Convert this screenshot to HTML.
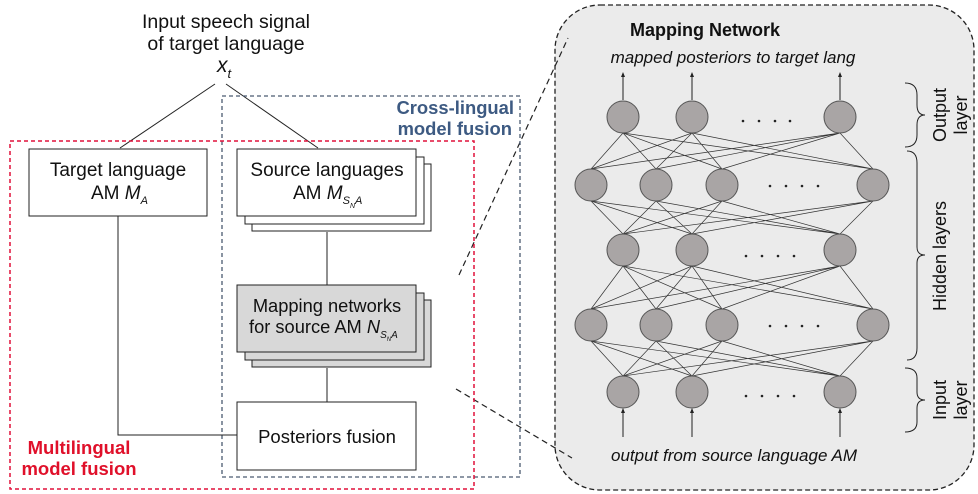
<!DOCTYPE html>
<html><head><meta charset="utf-8"><style>
body{margin:0;background:#fff;}
svg{display:block;font-family:"Liberation Sans",sans-serif;}
</style></head><body>
<svg width="978" height="494" viewBox="0 0 978 494" xmlns="http://www.w3.org/2000/svg">
<rect x="555" y="5" width="419" height="485" rx="45" fill="#ebebeb" stroke="#222" stroke-width="1.3" stroke-dasharray="5,3"/>
<line x1="459" y1="275" x2="568" y2="38" stroke="#222" stroke-width="1.2" stroke-dasharray="6,4"/>
<line x1="456" y1="389" x2="572" y2="458" stroke="#222" stroke-width="1.2" stroke-dasharray="6,4"/>

<text x="226" y="28" font-size="19.5" text-anchor="middle" fill="#111">Input speech signal</text>
<text x="226" y="50" font-size="19.5" text-anchor="middle" fill="#111">of target language</text>
<text x="217" y="72" font-size="21" font-style="italic" fill="#111">x<tspan font-size="13" dy="6">t</tspan></text>
<line x1="215" y1="84" x2="120" y2="148" stroke="#222" stroke-width="1"/>
<line x1="226" y1="84" x2="318" y2="148" stroke="#222" stroke-width="1"/>

<rect x="222" y="96" width="298" height="381" fill="none" stroke="#4a5a70" stroke-width="1.3" stroke-dasharray="4,3"/>
<rect x="10" y="141" width="464" height="348" fill="none" stroke="#e0103a" stroke-width="1.5" stroke-dasharray="4,3"/>

<text x="514" y="114" font-size="18.4" font-weight="bold" text-anchor="end" fill="#3d5a82">Cross-lingual</text>
<text x="512" y="135" font-size="18.4" font-weight="bold" text-anchor="end" fill="#3d5a82">model fusion</text>
<text x="79" y="454" font-size="18.5" font-weight="bold" text-anchor="middle" fill="#e0102a">Multilingual</text>
<text x="79" y="475" font-size="18.5" font-weight="bold" text-anchor="middle" fill="#e0102a">model fusion</text>

<polyline points="118,216 118,435 237,435" fill="none" stroke="#222" stroke-width="1"/>
<line x1="327" y1="232" x2="327" y2="285" stroke="#222" stroke-width="1"/>
<line x1="327" y1="368" x2="327" y2="402" stroke="#222" stroke-width="1"/>

<rect x="29" y="149" width="178" height="67" fill="#fff" stroke="#222" stroke-width="1"/>
<text x="118" y="176" font-size="19" text-anchor="middle" fill="#111">Target language</text>
<text x="91" y="199" font-size="19" fill="#111">AM <tspan font-style="italic">M</tspan><tspan font-size="11" font-style="italic" dy="5">A</tspan></text>

<rect x="252" y="164" width="179" height="67" fill="#fff" stroke="#222" stroke-width="1"/>
<rect x="245" y="157" width="179" height="67" fill="#fff" stroke="#222" stroke-width="1"/>
<rect x="237" y="149" width="179" height="67" fill="#fff" stroke="#222" stroke-width="1"/>
<text x="327" y="176" font-size="19" text-anchor="middle" fill="#111">Source languages</text>
<text x="293" y="199" font-size="19" fill="#111">AM <tspan font-style="italic">M</tspan><tspan font-size="11" font-style="italic" dy="5">S</tspan><tspan font-size="7" font-style="italic" dy="4">N</tspan><tspan font-size="11" font-style="italic" dy="-4">A</tspan></text>

<rect x="252" y="300" width="179" height="67" fill="#d8d8d8" stroke="#222" stroke-width="1"/>
<rect x="245" y="293" width="179" height="67" fill="#d8d8d8" stroke="#222" stroke-width="1"/>
<rect x="237" y="285" width="179" height="67" fill="#d8d8d8" stroke="#222" stroke-width="1"/>
<text x="327" y="312" font-size="18.3" text-anchor="middle" fill="#111">Mapping networks</text>
<text x="249" y="333" font-size="18.3" fill="#111">for source AM <tspan font-style="italic">N</tspan><tspan font-size="10" font-style="italic" dy="5">S</tspan><tspan font-size="6" font-style="italic" dy="3">N</tspan><tspan font-size="10" font-style="italic" dy="-3">A</tspan></text>

<rect x="237" y="402" width="179" height="68" fill="#fff" stroke="#222" stroke-width="1"/>
<text x="327" y="443" font-size="18.5" text-anchor="middle" fill="#111">Posteriors fusion</text>

<g stroke="#333" stroke-width="0.7" fill="none">
<path d="M623 133L591 169M623 133L656 169M623 133L722 169M623 133L873 169M692 133L591 169M692 133L656 169M692 133L722 169M692 133L873 169M840 133L591 169M840 133L656 169M840 133L722 169M840 133L873 169"/>
<path d="M591 201L623 234M591 201L692 234M591 201L840 234M656 201L623 234M656 201L692 234M656 201L840 234M722 201L623 234M722 201L692 234M722 201L840 234M873 201L623 234M873 201L692 234M873 201L840 234"/>
<path d="M623 266L591 309M623 266L656 309M623 266L722 309M623 266L873 309M692 266L591 309M692 266L656 309M692 266L722 309M692 266L873 309M840 266L591 309M840 266L656 309M840 266L722 309M840 266L873 309"/>
<path d="M591 341L623 376M591 341L692 376M591 341L840 376M656 341L623 376M656 341L692 376M656 341L840 376M722 341L623 376M722 341L692 376M722 341L840 376M873 341L623 376M873 341L692 376M873 341L840 376"/>
</g>
<g fill="#a9a5a5" stroke="#555" stroke-width="1">
<circle cx="623" cy="117" r="16"/><circle cx="692" cy="117" r="16"/><circle cx="840" cy="117" r="16"/>
<circle cx="591" cy="185" r="16"/><circle cx="656" cy="185" r="16"/><circle cx="722" cy="185" r="16"/><circle cx="873" cy="185" r="16"/>
<circle cx="623" cy="250" r="16"/><circle cx="692" cy="250" r="16"/><circle cx="840" cy="250" r="16"/>
<circle cx="591" cy="325" r="16"/><circle cx="656" cy="325" r="16"/><circle cx="722" cy="325" r="16"/><circle cx="873" cy="325" r="16"/>
<circle cx="623" cy="392" r="16"/><circle cx="692" cy="392" r="16"/><circle cx="840" cy="392" r="16"/>
</g>
<g fill="#222">
<circle cx="743" cy="121" r="1.3"/><circle cx="759" cy="121" r="1.3"/><circle cx="775" cy="121" r="1.3"/><circle cx="790" cy="121" r="1.3"/>
<circle cx="770" cy="186" r="1.3"/><circle cx="786" cy="186" r="1.3"/><circle cx="802" cy="186" r="1.3"/><circle cx="818" cy="186" r="1.3"/>
<circle cx="746" cy="256" r="1.3"/><circle cx="762" cy="256" r="1.3"/><circle cx="778" cy="256" r="1.3"/><circle cx="794" cy="256" r="1.3"/>
<circle cx="770" cy="326" r="1.3"/><circle cx="786" cy="326" r="1.3"/><circle cx="802" cy="326" r="1.3"/><circle cx="818" cy="326" r="1.3"/>
<circle cx="746" cy="396" r="1.3"/><circle cx="762" cy="396" r="1.3"/><circle cx="778" cy="396" r="1.3"/><circle cx="794" cy="396" r="1.3"/>
</g>
<g stroke="#222" stroke-width="1">
<line x1="623" y1="100" x2="623" y2="76"/><line x1="692" y1="100" x2="692" y2="76"/><line x1="840" y1="100" x2="840" y2="76"/>
<line x1="623" y1="437" x2="623" y2="410"/><line x1="692" y1="437" x2="692" y2="410"/><line x1="840" y1="437" x2="840" y2="410"/>
</g>
<g fill="#222">
<path d="M623 72l-2 5h4z"/><path d="M692 72l-2 5h4z"/><path d="M840 72l-2 5h4z"/>
<path d="M623 408l-2 5h4z"/><path d="M692 408l-2 5h4z"/><path d="M840 408l-2 5h4z"/>
</g>
<text x="630" y="36" font-size="18" font-weight="bold" fill="#111">Mapping Network</text>
<text x="733" y="63" font-size="17" font-style="italic" text-anchor="middle" fill="#111">mapped posteriors to target lang</text>
<text x="734" y="461" font-size="17" font-style="italic" text-anchor="middle" fill="#111">output from source language AM</text>
<g fill="none" stroke="#222" stroke-width="1">
<path d="M905 83 q12 0 12 12 v10 q0 10 8 10 q-8 0 -8 10 v10 q0 12 -12 12"/>
<path d="M907 151 q10 0 10 12 v84 q0 8 8 8 q-8 0 -8 8 v85 q0 12 -10 12"/>
<path d="M905 368 q12 0 12 10 v14 q0 8 8 8 q-8 0 -8 8 v14 q0 10 -12 10"/>
</g>
<g font-size="18" fill="#111" text-anchor="middle">
<text transform="translate(946,115) rotate(-90)">Output</text>
<text transform="translate(967,115) rotate(-90)">layer</text>
<text transform="translate(946,256) rotate(-90)">Hidden layers</text>
<text transform="translate(946,400) rotate(-90)">Input</text>
<text transform="translate(967,400) rotate(-90)">layer</text>
</g>
</svg>
</body></html>
